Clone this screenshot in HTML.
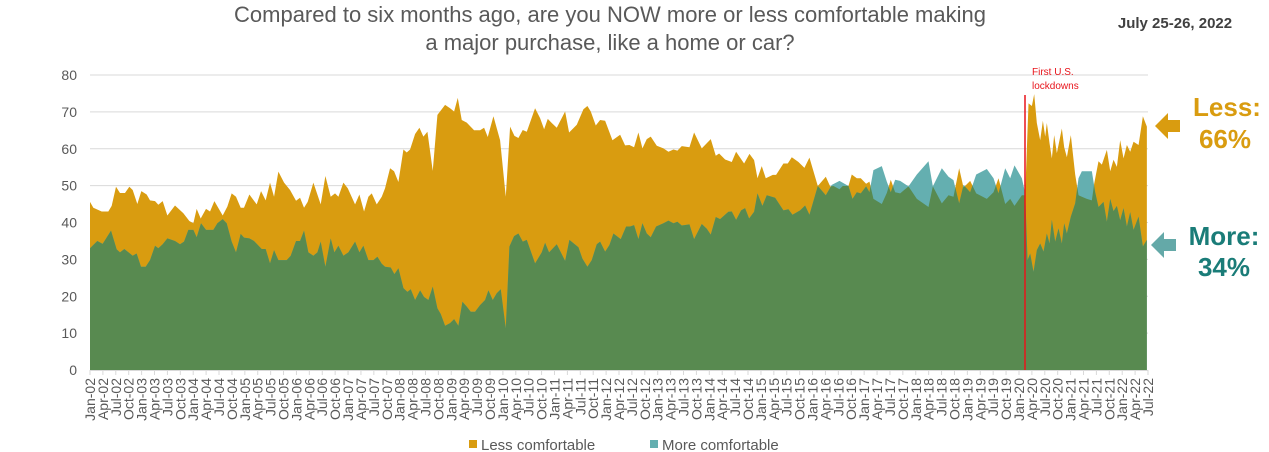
<!DOCTYPE html>
<html><head><meta charset="utf-8">
<style>
body{margin:0;background:#fff;width:1269px;height:452px;overflow:hidden;font-family:"Liberation Sans",sans-serif;}
svg{display:block}
</style></head>
<body>
<svg id="chart" width="1269" height="452" viewBox="0 0 1269 452" xmlns="http://www.w3.org/2000/svg">
<text x="610" y="22" text-anchor="middle" font-size="22" fill="#595959">Compared to six months ago, are you NOW more or less comfortable making</text>
<text x="610" y="50" text-anchor="middle" font-size="22" fill="#595959">a major purchase, like a home or car?</text>
<text x="1175" y="28" text-anchor="middle" font-size="15" font-weight="bold" fill="#404040">July 25-26, 2022</text>
<g id="grid"></g>
<g id="yaxis"></g>
<defs><clipPath id="lessClip"><path id="lessClipPath"/></clipPath></defs>
<path id="lessArea" fill="#D99C10"/>
<path id="moreArea" fill="#64AFB0"/>
<path id="overlapArea" fill="#588A50" clip-path="url(#lessClip)"/>
<g id="xaxis"></g>
<line x1="1025" y1="95" x2="1025" y2="370" stroke="#E8141B" stroke-width="1.5"/>
<text x="1032" y="75" font-size="10" fill="#E8141B">First U.S.</text>
<text x="1032" y="89" font-size="10" fill="#E8141B">lockdowns</text>
<polygon points="1155,126 1168,113 1168,120 1180,120 1180,132 1168,132 1168,139" fill="#D99C10"/>
<polygon points="1151,245 1164,232 1164,239 1176,239 1176,251 1164,251 1164,258" fill="#64A9A8"/>
<text x="1227" y="116" text-anchor="middle" font-size="26" font-weight="bold" fill="#D99C10">Less:</text>
<text x="1225" y="148" text-anchor="middle" font-size="26" font-weight="bold" fill="#D99C10">66%</text>
<text x="1224" y="245" text-anchor="middle" font-size="26" font-weight="bold" fill="#1A7C78">More:</text>
<text x="1224" y="276" text-anchor="middle" font-size="26" font-weight="bold" fill="#1A7C78">34%</text>
<g>
<rect x="469" y="440" width="8" height="8" fill="#D99C10"/>
<text x="481" y="450" font-size="15" fill="#595959">Less comfortable</text>
<rect x="650" y="440" width="8" height="8" fill="#64AFB0"/>
<text x="662" y="450" font-size="15" fill="#595959">More comfortable</text>
</g>
</svg>
<script>
const yTicks=[0,10,20,30,40,50,60,70,80];
const quarterLabels=[];
["02","03","04","05","06","07","08","09","10","11","12","13","14","15","16","17","18","19","20","21","22"].forEach(function(y){["Jan","Apr","Jul","Oct"].forEach(function(m){quarterLabels.push(m+"-"+y);});});
quarterLabels.splice(83);
const lessYears=[0,.065,.226,.355,.42,.504,.581,.678,.762,.827,.917,.995,1.098,1.163,1.26,1.324,1.408,1.499,1.647,1.809,1.925,2.003,2.067,2.145,2.248,2.326,2.41,2.571,2.661,2.745,2.829,2.92,2.984,3.088,3.23,3.314,3.404,3.488,3.566,3.65,3.76,3.876,3.992,4.07,4.147,4.218,4.328,4.47,4.561,4.664,4.748,4.813,4.91,4.994,5.136,5.22,
5.31,5.394,5.459,5.556,5.653,5.717,5.814,5.892,5.976,6.073,6.137,6.202,6.299,6.383,6.46,6.538,6.641,6.732,6.88,6.977,7.055,7.126,7.203,7.3,7.442,7.558,7.636,7.707,7.817,7.946,8.056,8.14,8.224,8.301,8.385,8.463,8.624,8.721,8.799,8.87,8.947,9.044,9.206,9.283,9.432,9.561,9.638,9.703,9.8,9.884,9.981,10.123,10.272,10.368,
10.452,10.542,10.626,10.704,10.788,10.865,10.982,11.111,11.208,11.305,11.382,11.466,11.615,11.705,11.854,12.028,12.125,12.19,12.306,12.435,12.519,12.674,12.778,12.868,12.933,13.016,13.094,13.23,13.294,13.436,13.52,13.598,13.727,13.843,13.94,14.102,14.257,14.341,14.405,14.522,14.586,14.696,14.76,14.858,14.935,15.038,15.103,15.18,15.342,15.439,15.516,15.6,
15.698,15.859,16.021,16.247,16.331,16.505,16.635,16.731,16.841,16.925,17.054,17.171,17.377,17.507,17.603,17.733,17.83,17.913,18.056,18.12,
18.153,18.185,18.25,18.295,18.346,18.411,18.463,18.508,18.54,18.592,18.637,18.682,18.734,18.831,18.876,18.928,19.005,19.089,19.154,19.218,19.315,19.412,19.457,19.541,19.606,19.703,19.768,19.832,19.897,19.961,20.026,20.091,20.155,20.22,20.317,20.401,20.478];
const lessValues=[45.6,44,43,43,44.5,49.7,48,48,49.7,48.8,45,48.5,47.6,46,45.8,44.8,45.8,41.9,44.6,42.5,40.4,39.8,43.7,41.1,43.7,43,45.8,41.9,44.3,47.9,47,44,44,47.6,44.9,48.5,46,50.8,47,53.8,50.8,48.8,45.9,46.7,44,45.6,50.8,44.9,52.6,47,47.9,47,50.8,49.3,44.9,47.6,
43,47,47.9,44.9,47,49.3,54.7,53.9,51,59.8,59,59.8,64,65.7,63.3,64.6,54,69.2,71.9,71,70.1,73.8,67.8,67.1,65,65,65.7,63.2,68.8,62.3,47,66,63.5,62.9,65.1,64.6,71,68.3,65.3,68.1,67,65.7,70.1,64.4,66.5,70.7,71.6,70.1,66.3,67.8,67.6,62.3,63.8,60.9,
61,60.4,64.4,60.1,62.6,63.3,60.8,60.1,59.2,59.8,59.5,60.7,60.4,64.4,60.1,62.6,58.1,58.7,57.1,56.4,59.2,56,58.6,56.9,52,55.3,52,52.9,52.9,56,56,57.7,56.4,54.8,57.6,49.9,52.4,49.8,49.9,49,49.9,49.9,53,52,52,50.5,51.1,46.4,45,48,51.6,48.2,
47.9,49.8,46.4,44.2,49.8,45.2,47.4,47,54.7,49.5,51.3,47.9,46.4,48.2,52,45,46.4,44.5,47.4,47.4,
60,72.3,71.6,74.8,67,62.3,67.6,63.3,67,61.5,57.4,63.7,58.8,65.5,60.4,57.7,63.7,53,47.4,47,46.4,46,50.5,56.6,55.7,59.7,53.9,57,55.1,62.3,57.4,61,59.2,61.9,61,68.8,66];
const moreYears=[0,.142,.245,.407,.517,.581,.665,.827,.904,.988,1.079,1.163,1.26,1.324,1.408,1.499,1.647,1.744,1.822,1.906,2.003,2.067,2.151,2.248,2.39,2.468,2.571,2.649,2.745,2.829,2.92,2.984,3.088,3.178,3.327,3.404,3.488,3.566,3.65,3.811,3.889,3.992,4.07,4.147,4.231,4.328,4.406,4.47,4.561,4.664,4.735,4.813,4.91,5.006,5.136,5.22,
5.297,5.394,5.491,5.569,5.653,5.717,5.827,5.898,5.976,6.073,6.15,6.215,6.299,6.396,6.473,6.557,6.641,6.732,6.796,6.88,6.977,7.055,7.138,7.216,7.3,7.377,7.461,7.558,7.655,7.72,7.804,7.881,7.959,8.056,8.127,8.217,8.301,8.385,8.463,8.624,8.753,8.818,8.895,9.044,9.206,9.289,9.464,9.541,9.638,9.722,9.819,9.884,9.981,10.065,10.142,10.284,10.388,
10.465,10.542,10.626,10.704,10.788,10.865,10.969,11.111,11.208,11.305,11.382,11.466,11.615,11.705,11.854,11.951,12.028,12.125,12.209,12.37,12.435,12.519,12.616,12.693,12.771,12.868,12.933,13.029,13.113,13.275,13.436,13.533,13.611,13.759,13.856,13.94,14.102,14.257,14.373,14.522,14.696,14.774,14.858,14.935,15.038,15.103,15.18,15.342,15.439,15.516,15.6,
15.698,15.859,16.021,16.247,16.331,16.505,16.635,16.731,16.841,16.925,17.054,17.171,17.377,17.507,17.603,17.733,17.83,17.913,18.056,18.12,
18.166,18.217,18.282,18.346,18.411,18.476,18.54,18.592,18.637,18.702,18.766,18.831,18.876,18.928,19.005,19.089,19.154,19.218,19.315,19.412,19.477,19.541,19.638,19.703,19.768,19.832,19.897,19.961,20.026,20.091,20.155,20.22,20.317,20.401,20.478];
const moreValues=[33,35,34.2,37.8,32.7,31.9,32.8,31,31.6,28,28,29.8,33.7,33,34.1,35.7,35,34.1,34.8,38,38,36,39.8,38,38,39.8,40.9,39.8,34.8,31.9,36.9,35.9,35.7,35,32.8,32.8,28.9,32.5,29.8,29.8,31,35,35,37.8,31.9,31,31.9,34.8,28,35.7,31.9,33.7,31,31.9,34.8,31.9,
33.7,29.8,29.8,30.7,28.8,28,27.8,26,27.6,22.2,21.2,21.9,19,21.6,19.8,19,22.6,16.7,15.2,12,12.7,13.8,12,18.5,17.2,15.8,15.8,17.6,19,21.6,19,20.8,21.9,11.3,33.5,36.3,37,34.8,35.3,28.9,31.9,34.5,31.9,34.1,29.6,35.3,33.3,30.2,28,29.8,34.1,34.8,32.1,33.9,37,35.5,38.9,
38.9,39.3,35.5,39.8,37,36,38.9,39.8,40.5,39.8,40.2,39.2,39.5,35.5,39.6,38.3,36.7,41.5,40.9,42.9,43,40.7,43.3,43.9,41.1,42.9,47.9,44.5,47.4,46.7,43.3,43.6,42.1,43.3,44.6,42.1,49.9,47.4,50.2,51.3,49.9,46.4,48.2,47.9,49.8,48.2,54.2,55.3,51.1,48.2,51.6,
51.3,49.8,53,56.6,49.8,54.7,52.4,51.5,45.2,50.2,48.2,53,54.5,52,47.9,54.7,52,55.5,52,48,
29.8,31.6,26.6,32.5,34.3,32.1,37,34.3,40.7,34.8,38.4,34.3,39.8,37,41.6,45.2,52,53.9,53.9,53.9,48.2,44.2,45.6,40.2,46.4,43.1,44.5,40.6,43.9,38.9,42.8,38,41.6,33.5,35.3];

const X0=90, PX_PER_YEAR=1058/20.5, Y0=370, PX_PER_UNIT=295/80;
function xScale(yearsSince2002){return X0+yearsSince2002*PX_PER_YEAR;}
function yScale(v){return Y0-v*PX_PER_UNIT;}
const NS="http://www.w3.org/2000/svg";
function areaPath(ts,vs){
  let d="M"+xScale(ts[0]).toFixed(2)+","+Y0;
  for(let i=0;i<ts.length;i++){d+="L"+xScale(ts[i]).toFixed(2)+","+yScale(vs[i]).toFixed(2);}
  d+="L"+xScale(ts[ts.length-1]).toFixed(2)+","+Y0+"Z";
  return d;
}
const lp=areaPath(lessYears,lessValues), mp=areaPath(moreYears,moreValues);
document.getElementById('lessArea').setAttribute('d',lp);
document.getElementById('lessClipPath').setAttribute('d',lp);
document.getElementById('moreArea').setAttribute('d',mp);
document.getElementById('overlapArea').setAttribute('d',mp);

const grid=document.getElementById('grid'), ya=document.getElementById('yaxis'), xa=document.getElementById('xaxis');
yTicks.forEach(function(v){
  if(v>0){
    const l=document.createElementNS(NS,'line');
    
    
    l.setAttribute('x1',X0);l.setAttribute('x2',1148);l.setAttribute('y1',yScale(v));l.setAttribute('y2',yScale(v));
    l.setAttribute('stroke','#D9D9D9');l.setAttribute('stroke-width','1');
    grid.appendChild(l);
  }
  const t=document.createElementNS(NS,'text');
  
  
  t.setAttribute('x',77);t.setAttribute('y',yScale(v)+5);t.setAttribute('text-anchor','end');
  t.setAttribute('font-size','14');t.setAttribute('fill','#595959');
  t.textContent=v;ya.appendChild(t);
});
const base=document.createElementNS(NS,'line');


base.setAttribute('x1',X0);base.setAttribute('x2',1148);base.setAttribute('y1',Y0+0.5);base.setAttribute('y2',Y0+0.5);
base.setAttribute('stroke','#D9D9D9');xa.appendChild(base);
quarterLabels.forEach(function(lab,i){
  const x=xScale(i*0.25);
  const tk=document.createElementNS(NS,'line');
  
  
  tk.setAttribute('x1',x);tk.setAttribute('x2',x);tk.setAttribute('y1',Y0);tk.setAttribute('y2',Y0+5);
  tk.setAttribute('stroke','#D9D9D9');xa.appendChild(tk);
  const t=document.createElementNS(NS,'text');
  
  
  t.setAttribute('transform','translate('+(x+5)+','+(Y0+8)+') rotate(-90)');
  t.setAttribute('text-anchor','end');t.setAttribute('font-size','14');t.setAttribute('fill','#595959');
  t.textContent=lab;xa.appendChild(t);
});
</script>
</body></html>
